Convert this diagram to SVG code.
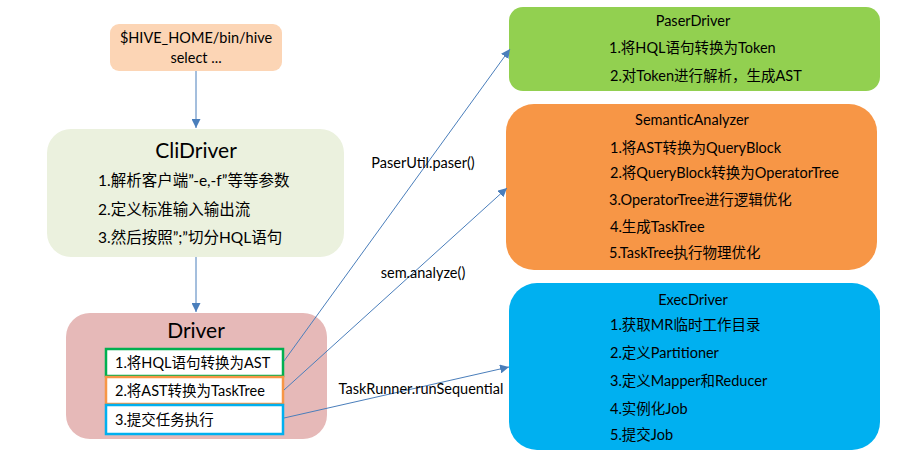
<svg xmlns="http://www.w3.org/2000/svg" width="907" height="457" viewBox="0 0 907 457">
<style>
text{font-family:Lato,"Noto Sans CJK SC",sans-serif;fill:#000;}
.t{font-size:14.5px;}
.b{font-size:15.5px;}
.h{font-size:21px;}
.c{text-anchor:middle;}
.ln{stroke:#4a7ebb;stroke-width:1;fill:none;marker-end:url(#ah);}
</style>
<defs>
<marker id="ah" viewBox="0 0 10 10" refX="10" refY="5" markerWidth="9" markerHeight="9" markerUnits="userSpaceOnUse" orient="auto">
<path d="M0,0 L10,5 L0,10 z" fill="#4a7ebb"/>
</marker>
</defs>
<rect width="907" height="457" fill="#fff"/>
<g id="start">
<rect x="110" y="24" width="172" height="47" rx="9" fill="#fcd5b5"/>
<text class="t c" x="196" y="43">$HIVE_HOME/bin/hive</text>
<text class="t c" x="196" y="63">select ...</text>
</g>
<g id="clidriver">
<rect x="47" y="129" width="297" height="128" rx="24" fill="#ebf1de"/>
<text class="h c" x="196" y="158">CliDriver</text>
<text class="b" x="98" y="186">1.解析客户端”-e,-f”等等参数</text>
<text class="b" x="98" y="215">2.定义标准输入输出流</text>
<text class="b" x="98" y="243">3.然后按照”;”切分HQL语句</text>
</g>
<g id="driver">
<rect x="66" y="313" width="261" height="126" rx="24" fill="#e6b9b8"/>
<text class="h c" x="196" y="338">Driver</text>
<rect x="106" y="349" width="177" height="27" fill="#fff" stroke="#00b050" stroke-width="2.5"/>
<text class="t" x="115" y="368">1.将HQL语句转换为AST</text>
<rect x="106" y="377" width="177" height="27" fill="#fff" stroke="#f79646" stroke-width="2.5"/>
<text class="t" x="115" y="396">2.将AST转换为TaskTree</text>
<rect x="106" y="405" width="177" height="29" fill="#fff" stroke="#00b0f0" stroke-width="2.5"/>
<text class="t" x="115" y="425">3.提交任务执行</text>
</g>
<g id="paserdriver">
<rect x="509" y="7" width="371" height="84" rx="14" fill="#92d050"/>
<text class="t c" x="693" y="26">PaserDriver</text>
<text class="t" x="609" y="53">1.将HQL语句转换为Token</text>
<text class="t" x="610" y="81">2.对Token进行解析，生成AST</text>
</g>
<g id="semanticanalyzer">
<rect x="506" y="104" width="371" height="166" rx="28" fill="#f79646"/>
<text class="t c" x="692" y="125">SemanticAnalyzer</text>
<text class="t" x="610" y="153">1.将AST转换为QueryBlock</text>
<text class="t" x="610" y="178">2.将QueryBlock转换为OperatorTree</text>
<text class="t" x="609" y="205">3.OperatorTree进行逻辑优化</text>
<text class="t" x="610" y="232">4.生成TaskTree</text>
<text class="t" x="609" y="258">5.TaskTree执行物理优化</text>
</g>
<g id="execdriver">
<rect x="509" y="283" width="371" height="167" rx="28" fill="#00b0f0"/>
<text class="t c" x="693" y="305">ExecDriver</text>
<text class="t" x="610" y="330">1.获取MR临时工作目录</text>
<text class="t" x="610" y="358">2.定义Partitioner</text>
<text class="t" x="610" y="386">3.定义Mapper和Reducer</text>
<text class="t" x="610" y="414">4.实例化Job</text>
<text class="t" x="610" y="440">5.提交Job</text>
</g>
<g id="connectors">
<line class="ln" x1="196" y1="71" x2="196" y2="128"/>
<line class="ln" x1="196" y1="257" x2="196" y2="312"/>
<line class="ln" x1="284" y1="361" x2="510" y2="49"/>
<line class="ln" x1="284" y1="390" x2="507" y2="188"/>
<line class="ln" x1="284" y1="418" x2="509" y2="367"/>
<text class="t c" x="423" y="168">PaserUtil.paser()</text>
<text class="t c" x="423" y="278">sem.analyze()</text>
<text class="t c" x="421" y="394">TaskRunner.runSequential</text>
</g>
</svg>
